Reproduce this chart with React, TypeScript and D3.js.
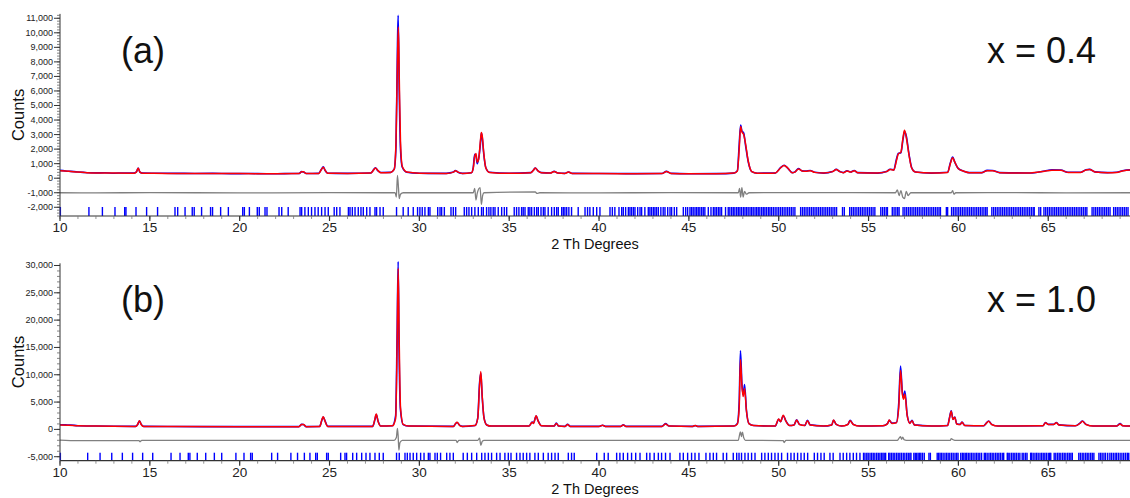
import React from "react";
import * as d3 from "d3";

type Pt = [number, number];

// ---------- Panel (a): x = 0.4 ----------
const calcA: Pt[] = [
  [10.0, 520], [10.5, 480], [11.0, 420], [11.5, 380], [12.0, 360], [13.0, 350], [14.1, 345],
  [14.25, 420], [14.35, 680], [14.45, 420], [14.6, 345], [16.0, 330], [18.0, 320], [20.0, 315],
  [22.0, 310], [23.3, 320], [23.45, 440], [23.55, 440], [23.7, 320], [24.4, 330], [24.55, 600],
  [24.65, 760], [24.75, 560], [24.9, 340], [26.0, 330], [27.3, 360], [27.45, 560], [27.55, 700],
  [27.7, 520], [27.85, 380], [28.4, 400], [28.6, 600], [28.7, 2500], [28.78, 8000], [28.83, 10400],
  [28.88, 7000], [28.95, 2500], [29.05, 800], [29.3, 420], [30.0, 340], [31.5, 330], [31.9, 420],
  [32.0, 520], [32.15, 420], [32.4, 330], [32.9, 380], [33.0, 700], [33.08, 1500], [33.15, 1700],
  [33.22, 1100], [33.3, 1300], [33.4, 2600], [33.45, 3150], [33.5, 2900], [33.58, 1800], [33.7, 700],
  [33.9, 400], [35.0, 340], [36.2, 380], [36.35, 550], [36.45, 700], [36.6, 500], [36.8, 380],
  [37.3, 360], [37.5, 460], [37.7, 360], [38.1, 330], [38.3, 420], [38.5, 330], [40.0, 320],
  [42.0, 310], [43.5, 320], [43.75, 460], [44.0, 330], [45.0, 300], [46.5, 310], [47.5, 350],
  [47.7, 500], [47.8, 2000], [47.88, 3550], [47.95, 3200], [48.05, 3000], [48.15, 2400], [48.3, 1200],
  [48.5, 450], [48.8, 340], [49.8, 350], [50.1, 700], [50.3, 880], [50.5, 700], [50.75, 380],
  [50.9, 420], [51.1, 640], [51.3, 500], [51.5, 480], [51.75, 520], [52.0, 400], [52.5, 350],
  [53.0, 450], [53.2, 600], [53.4, 450], [53.6, 380], [53.8, 500], [54.0, 420], [54.2, 520],
  [54.4, 380], [55.5, 350], [56.0, 450], [56.2, 600], [56.4, 550], [56.55, 1200], [56.65, 1650],
  [56.8, 1800], [56.92, 2800], [57.0, 3300], [57.1, 2800], [57.25, 1600], [57.4, 700], [57.6, 420],
  [58.5, 350], [59.4, 400], [59.55, 1000], [59.68, 1400], [59.8, 1100], [60.0, 650], [60.3, 480],
  [60.6, 380], [61.3, 380], [61.6, 520], [61.9, 520], [62.3, 380], [64.0, 360], [64.8, 480],
  [65.2, 550], [65.7, 540], [66.1, 400], [66.8, 400], [67.1, 570], [67.3, 600], [67.6, 430],
  [68.3, 380], [68.8, 400], [69.2, 520], [69.55, 560],
];

const obsA: Pt[] = [
  [10.0, 540], [10.3, 500], [10.6, 470], [11.0, 430], [11.3, 400], [11.6, 370], [12.0, 365],
  [12.5, 372], [13.0, 345], [13.5, 360], [14.1, 350], [14.25, 430], [14.35, 700], [14.45, 410],
  [14.6, 350], [15.5, 340], [16.5, 335], [17.5, 322], [18.5, 330], [19.5, 312], [20.5, 322],
  [21.5, 306], [22.5, 316], [23.3, 322], [23.45, 450], [23.55, 430], [23.7, 322], [24.4, 335],
  [24.55, 620], [24.65, 780], [24.75, 550], [24.9, 340], [26.0, 330], [27.3, 362], [27.45, 580],
  [27.55, 720], [27.7, 500], [27.85, 390], [28.4, 400], [28.6, 620], [28.7, 2200], [28.78, 9000],
  [28.82, 11200], [28.88, 6000], [28.95, 2000], [29.05, 750], [29.3, 410], [30.0, 345], [31.0, 330],
  [31.5, 335], [31.9, 420], [32.0, 530], [32.15, 410], [32.4, 330], [32.9, 380], [33.0, 750],
  [33.08, 1650], [33.15, 1550], [33.22, 1000], [33.3, 1350], [33.4, 2400], [33.45, 3100],
  [33.5, 2800], [33.58, 1700], [33.7, 720], [33.9, 410], [35.0, 345], [36.2, 385], [36.35, 560],
  [36.45, 690], [36.6, 510], [36.8, 385], [37.3, 362], [37.5, 470], [37.7, 360], [38.1, 335],
  [38.3, 425], [38.5, 332], [40.0, 322], [41.0, 318], [42.0, 312], [43.5, 322], [43.75, 470],
  [44.0, 332], [45.0, 302], [46.5, 312], [47.5, 352], [47.7, 520], [47.8, 2300], [47.88, 3650],
  [47.95, 3250], [48.05, 3100], [48.15, 2300], [48.3, 1150], [48.5, 450], [48.8, 345], [49.8, 352],
  [50.1, 720], [50.3, 890], [50.5, 690], [50.75, 385], [50.9, 425], [51.1, 660], [51.3, 505],
  [51.5, 485], [51.75, 530], [52.0, 405], [52.5, 352], [53.0, 455], [53.2, 610], [53.4, 455],
  [53.6, 385], [53.8, 510], [54.0, 425], [54.2, 530], [54.4, 385], [55.5, 352], [56.0, 455],
  [56.2, 620], [56.4, 560], [56.55, 1300], [56.65, 1700], [56.8, 1750], [56.92, 2700],
  [57.0, 3200], [57.1, 2900], [57.25, 1650], [57.4, 720], [57.6, 425], [58.5, 352], [59.4, 405],
  [59.55, 1050], [59.68, 1450], [59.8, 1100], [60.0, 660], [60.3, 485], [60.6, 385], [61.3, 385],
  [61.6, 540], [61.9, 530], [62.3, 385], [64.0, 362], [64.8, 490], [65.2, 570], [65.7, 560],
  [66.1, 405], [66.8, 405], [67.1, 580], [67.3, 610], [67.6, 435], [68.3, 385], [68.8, 405],
  [69.2, 530], [69.55, 570],
];

const diffA: Pt[] = [
  [10.0, -1000], [12.0, -1010], [15.0, -990], [20.0, -1010], [25.0, -990], [28.0, -1000],
  [28.65, -1000], [28.72, -1300], [28.78, 200], [28.84, -700], [28.88, -1400], [28.95, -1100],
  [29.1, -1000], [33.0, -1000], [33.08, -700], [33.15, -1500], [33.22, -1050], [33.38, -650],
  [33.45, -1800], [33.52, -1200], [33.6, -1000], [36.45, -950], [36.55, -1050], [36.7, -1000],
  [40.0, -1010], [44.0, -990], [47.75, -1000], [47.82, -700], [47.88, -1300], [47.95, -650],
  [48.02, -1300], [48.1, -900], [48.2, -1100], [48.35, -1000], [52.0, -990], [56.5, -1000],
  [56.6, -800], [56.7, -1200], [56.8, -850], [56.9, -1300], [57.0, -1400], [57.1, -900],
  [57.2, -1200], [57.35, -1000], [59.6, -1000], [59.68, -850], [59.75, -1100], [59.85, -1000],
  [63.0, -990], [66.0, -1010], [69.55, -1000],
];

const reflA: number[] = [
  10.02, 11.61, 12.36, 13.06, 13.6, 13.67, 14.23, 14.82, 15.43, 16.4, 16.55, 16.96, 17.36, 17.47,
  17.88, 18.38, 18.49, 18.94, 19.37, 20.17, 20.26, 20.54, 20.98, 21.09, 21.41, 21.52, 22.19, 22.34,
  22.7, 23.36, 23.45, 23.63, 23.82, 24.0, 24.19, 24.37, 24.56, 24.75, 24.93, 25.26, 25.4, 25.58,
  26.05, 26.14, 26.27, 26.42, 26.6, 26.75, 26.88, 27.07, 27.25, 27.53, 27.62, 27.81, 27.99, 28.73,
  29.1, 29.38, 29.66, 29.9, 30.03, 30.16, 30.31, 30.5, 30.59, 31.02, 31.15, 31.24, 31.39, 31.76,
  31.89, 32.02, 32.5, 32.63, 32.76, 32.91, 33.09, 33.28, 33.46, 33.56, 33.74, 33.87, 33.98, 34.11,
  34.21, 34.39, 34.58, 34.73, 34.86, 35.28, 35.41, 35.54, 35.69, 35.78, 35.88, 36.06, 36.15, 36.25,
  36.4, 36.53, 36.62, 36.77, 36.9, 36.99, 37.17, 37.36, 37.51, 37.64, 37.73, 37.92, 38.01, 38.1,
  38.2, 38.32, 38.47, 38.84, 39.22, 39.36, 39.49, 39.68, 39.87, 40.05, 40.61, 40.74, 40.88, 41.11,
  41.26, 41.35, 41.48, 41.63, 41.72, 41.81, 41.91, 42.0, 42.15, 42.28, 42.37, 42.55, 42.74, 42.83,
  42.92, 43.02, 43.11, 43.2, 43.3, 43.44, 43.57, 43.67, 43.82, 43.95, 44.04, 44.19, 44.32, 44.69,
  44.82, 44.93, 45.06, 45.15, 45.24, 45.34, 45.43, 45.52, 45.61, 45.71, 45.8, 45.89, 46.08, 46.23,
  46.36, 46.45, 46.54, 46.64, 46.73, 46.82, 47.04, 47.19, 47.28, 47.38, 47.47, 47.56, 47.66, 47.75,
  47.84, 47.93, 48.03, 48.12, 48.21, 48.3, 48.4, 48.49, 48.58, 48.68, 48.77, 48.86, 48.95, 49.05,
  49.14, 49.23, 49.32, 49.42, 49.51, 49.6, 49.7, 49.8, 49.9, 50.0, 50.1, 50.2, 50.3, 50.4, 50.5,
  50.6, 50.7, 50.8, 50.9, 51.22, 51.32, 51.42, 51.52, 51.62, 51.72, 51.82, 51.92, 52.02, 52.12,
  52.22, 52.32, 52.42, 52.52, 52.62, 52.72, 52.82, 52.92, 53.02, 53.12, 53.22, 53.55, 53.65, 53.95,
  54.05, 54.15, 54.25, 54.35, 54.45, 54.55, 54.65, 54.75, 54.85, 54.95, 55.05, 55.15, 55.25, 55.35,
  55.68, 55.78, 55.88, 55.98, 56.05, 56.32, 56.42, 56.52, 56.62, 56.7, 56.92, 57.02, 57.12, 57.22,
  57.32, 57.42, 57.52, 57.62, 57.72, 57.82, 57.92, 58.02, 58.12, 58.22, 58.32, 58.42, 58.52, 58.62,
  58.72, 58.82, 58.92, 59.0, 59.33, 59.4, 59.62, 59.72, 59.82, 59.92, 60.02, 60.12, 60.22, 60.32,
  60.42, 60.52, 60.62, 60.72, 60.82, 60.92, 61.02, 61.12, 61.22, 61.32, 61.42, 61.52, 61.6, 61.86,
  61.96, 62.06, 62.16, 62.26, 62.36, 62.46, 62.56, 62.66, 62.76, 62.86, 62.96, 63.06, 63.16, 63.26,
  63.36, 63.46, 63.56, 63.66, 63.76, 63.86, 63.96, 64.06, 64.16, 64.22, 64.48, 64.58, 64.76, 64.86,
  64.96, 65.06, 65.16, 65.26, 65.36, 65.46, 65.56, 65.66, 65.76, 65.86, 65.96, 66.06, 66.16, 66.26,
  66.36, 66.46, 66.56, 66.66, 66.76, 66.86, 66.96, 67.06, 67.15, 67.44, 67.54, 67.64, 67.74, 67.84,
  67.94, 68.04, 68.14, 68.24, 68.34, 68.44, 68.64, 68.74, 68.84, 68.94, 69.04, 69.14, 69.24, 69.34,
  69.44,
];

// ---------- Panel (b): x = 1.0 ----------
const calcB: Pt[] = [
  [10.0, 800], [10.5, 780], [11.0, 650], [12.0, 600], [13.0, 560], [14.2, 540], [14.32, 900],
  [14.42, 1600], [14.52, 900], [14.65, 540], [16.0, 520], [20.0, 500], [23.3, 500], [23.45, 900],
  [23.55, 900], [23.7, 500], [24.45, 520], [24.58, 1800], [24.65, 2300], [24.75, 1500], [24.9, 550],
  [27.4, 550], [27.52, 1800], [27.6, 2800], [27.7, 1500], [27.85, 600], [28.5, 650], [28.68, 2000],
  [28.76, 15000], [28.82, 29500], [28.87, 18000], [28.95, 4000], [29.1, 900], [29.4, 600],
  [31.9, 550], [32.0, 1000], [32.1, 1300], [32.25, 700], [32.4, 550], [33.1, 700], [33.25, 2000],
  [33.35, 8000], [33.42, 10600], [33.5, 6000], [33.6, 2000], [33.75, 800], [34.0, 600], [36.1, 600],
  [36.28, 1300], [36.35, 1100], [36.5, 2500], [36.6, 1600], [36.8, 650], [37.5, 600], [37.62, 1100],
  [37.75, 600], [38.1, 550], [38.25, 900], [38.4, 550], [40.0, 550], [40.2, 750], [40.35, 550],
  [41.2, 550], [41.35, 800], [41.5, 550], [43.5, 550], [43.7, 1000], [43.9, 600], [45.2, 550],
  [45.35, 700], [45.5, 550], [47.5, 600], [47.7, 1000], [47.8, 4000], [47.87, 12800], [47.95, 8000],
  [48.02, 6000], [48.1, 7500], [48.2, 3500], [48.35, 1000], [48.6, 700], [49.8, 600], [50.0, 1900],
  [50.1, 1400], [50.25, 2600], [50.4, 1500], [50.6, 700], [50.85, 800], [51.0, 1700], [51.15, 900],
  [51.45, 700], [51.6, 1600], [51.75, 800], [52.5, 600], [52.95, 800], [53.05, 1700], [53.2, 900],
  [53.5, 600], [53.85, 900], [53.97, 1600], [54.15, 900], [54.5, 600], [55.8, 650], [56.05, 1000],
  [56.15, 1700], [56.3, 1100], [56.55, 1200], [56.68, 4000], [56.78, 10800], [56.88, 6500],
  [56.95, 5500], [57.02, 6500], [57.15, 2500], [57.3, 1100], [57.42, 1600], [57.55, 800], [58.5, 600],
  [59.4, 700], [59.5, 2000], [59.6, 3300], [59.7, 1800], [59.8, 2200], [59.9, 1000], [60.1, 900],
  [60.2, 1300], [60.35, 700], [61.4, 650], [61.55, 1100], [61.68, 1500], [61.85, 900], [62.2, 600],
  [64.7, 650], [64.85, 1200], [65.0, 900], [65.3, 900], [65.45, 1200], [65.6, 800], [66.5, 650],
  [66.8, 1200], [66.9, 1500], [67.1, 900], [67.5, 600], [68.8, 600], [69.0, 1000], [69.15, 650],
  [69.55, 600],
];

const obsB: Pt[] = [
  [10.0, 850], [10.3, 820], [10.6, 800], [11.0, 660], [12.0, 610], [13.0, 570], [14.2, 545],
  [14.32, 880], [14.42, 1550], [14.52, 920], [14.65, 545], [16.0, 525], [18.0, 510], [20.0, 505],
  [23.3, 505], [23.45, 920], [23.55, 880], [23.7, 505], [24.45, 525], [24.58, 1750], [24.65, 2250],
  [24.75, 1550], [24.9, 555], [27.4, 555], [27.52, 1700], [27.6, 2700], [27.7, 1550], [27.85, 610],
  [28.5, 660], [28.68, 2500], [28.76, 17000], [28.82, 30700], [28.87, 15000], [28.95, 3500],
  [29.1, 880], [29.4, 610], [31.9, 555], [32.0, 1000], [32.1, 1250], [32.25, 720], [32.4, 555],
  [33.1, 710], [33.25, 2100], [33.35, 8500], [33.42, 10300], [33.5, 5800], [33.6, 2100], [33.75, 820],
  [34.0, 610], [36.1, 610], [36.28, 1350], [36.35, 1150], [36.5, 2450], [36.6, 1650], [36.8, 660],
  [37.5, 610], [37.62, 1150], [37.75, 610], [38.1, 555], [38.25, 920], [38.4, 555], [40.0, 555],
  [40.2, 770], [40.35, 555], [41.2, 555], [41.35, 820], [41.5, 555], [43.5, 555], [43.7, 1050],
  [43.9, 610], [45.2, 555], [45.35, 720], [45.5, 555], [47.5, 610], [47.7, 1100], [47.8, 5000],
  [47.87, 14400], [47.95, 8500], [48.02, 6300], [48.1, 8200], [48.2, 3600], [48.35, 1050],
  [48.6, 710], [49.8, 610], [50.0, 1850], [50.1, 1400], [50.25, 2500], [50.4, 1550], [50.6, 720],
  [50.85, 820], [51.0, 1750], [51.15, 920], [51.45, 720], [51.6, 1650], [51.75, 820], [52.5, 610],
  [52.95, 820], [53.05, 1650], [53.2, 920], [53.5, 610], [53.85, 920], [53.97, 1650], [54.15, 920],
  [54.5, 610], [55.8, 660], [56.05, 1050], [56.15, 1650], [56.3, 1150], [56.55, 1250], [56.68, 4800],
  [56.78, 11600], [56.88, 6800], [56.95, 5800], [57.02, 7000], [57.15, 2600], [57.3, 1150],
  [57.42, 1650], [57.55, 820], [58.5, 610], [59.4, 720], [59.5, 2100], [59.6, 3400], [59.7, 1850],
  [59.8, 2250], [59.9, 1050], [60.1, 920], [60.2, 1350], [60.35, 720], [61.4, 660], [61.55, 1150],
  [61.68, 1550], [61.85, 920], [62.2, 610], [64.7, 660], [64.85, 1250], [65.0, 920], [65.3, 920],
  [65.45, 1250], [65.6, 820], [66.5, 660], [66.8, 1250], [66.9, 1550], [67.1, 920], [67.5, 610],
  [68.8, 610], [69.0, 1050], [69.15, 660], [69.55, 610],
];

const diffB: Pt[] = [
  [10.0, -1950], [11.0, -2050], [14.4, -2050], [14.45, -2250], [14.55, -2000], [20.0, -2000],
  [28.6, -2000], [28.72, -1500], [28.78, 200], [28.82, -1200], [28.86, -3800], [28.92, -2400],
  [29.05, -2000], [32.05, -2000], [32.1, -2400], [32.2, -2000], [33.25, -2000], [33.35, -1600],
  [33.42, -2900], [33.5, -2200], [33.6, -2000], [40.0, -2000], [47.75, -2000], [47.82, -1000],
  [47.87, -440], [47.92, -1300], [47.98, -500], [48.05, -1500], [48.15, -2000], [50.25, -2050],
  [50.3, -2400], [50.4, -2000], [56.6, -2000], [56.7, -1600], [56.78, -1350], [56.84, -1800],
  [56.9, -1400], [56.98, -1900], [57.1, -2000], [59.55, -2000], [59.6, -1700], [59.7, -1900],
  [59.8, -2000], [65.0, -2000], [69.55, -2000],
];

const reflB: number[] = [
  10.02, 11.54, 12.23, 12.88, 13.47, 14.04, 14.6, 15.16, 16.18, 16.68, 17.14, 17.23, 17.64, 18.11,
  18.59, 19.0, 19.79, 20.24, 20.61, 20.7, 21.78, 22.11, 22.85, 23.22, 23.6, 23.91, 24.23, 24.32,
  24.84, 24.93, 25.62, 25.86, 25.95, 26.29, 26.51, 26.79, 27.03, 27.25, 27.53, 27.77, 27.99, 28.73,
  28.88, 29.2, 29.33, 29.48, 29.66, 29.85, 30.07, 30.26, 30.5, 30.59, 30.87, 31.0, 31.18, 31.52,
  31.7, 31.89, 32.44, 32.67, 32.91, 33.19, 33.47, 33.65, 33.84, 34.02, 34.3, 34.49, 34.76, 34.95,
  35.1, 35.41, 35.6, 35.78, 35.97, 36.15, 36.43, 36.62, 36.9, 37.17, 37.36, 37.55, 37.73, 38.29,
  38.47, 38.62, 39.87, 40.29, 40.51, 40.98, 41.16, 41.35, 41.59, 41.81, 42.04, 42.28, 42.65, 42.83,
  43.07, 43.3, 43.48, 43.7, 43.95, 44.5, 44.69, 44.93, 45.15, 45.34, 45.56, 45.95, 46.17, 46.36,
  46.54, 46.91, 47.1, 47.47, 47.66, 47.79, 47.93, 48.12, 48.3, 48.49, 48.68, 49.05, 49.23, 49.42,
  49.6, 49.79, 49.97, 50.16, 50.49, 50.68, 50.86, 51.05, 51.24, 51.42, 51.61, 51.98, 52.16, 52.35,
  52.53, 52.85, 53.03, 53.41, 53.59, 53.78, 53.96, 54.15, 54.33, 54.52, 54.72, 54.8, 54.9, 54.98,
  55.08, 55.17, 55.26, 55.35, 55.45, 55.54, 55.63, 55.72, 55.8, 55.87, 55.95, 56.12, 56.19, 56.28,
  56.37, 56.46, 56.56, 56.65, 56.74, 56.83, 56.93, 57.02, 57.12, 57.21, 57.3, 57.36, 57.52, 57.6,
  57.68, 57.76, 57.84, 57.91, 58.0, 58.1, 58.36, 58.44, 58.82, 58.9, 58.98, 59.06, 59.15, 59.25,
  59.34, 59.43, 59.52, 59.62, 59.71, 59.81, 59.9, 59.98, 60.13, 60.22, 60.3, 60.38, 60.46, 60.55,
  60.64, 60.73, 60.82, 60.92, 61.01, 61.1, 61.19, 61.29, 61.44, 61.51, 61.6, 61.7, 61.79, 61.88,
  61.97, 62.07, 62.16, 62.25, 62.34, 62.44, 62.52, 62.72, 62.77, 62.86, 62.96, 63.05, 63.14, 63.23,
  63.33, 63.42, 63.55, 63.64, 63.74, 63.82, 64.02, 64.07, 64.16, 64.26, 64.35, 64.44, 64.54, 64.63,
  64.72, 64.81, 64.9, 65.0, 65.08, 65.14, 65.33, 65.42, 65.52, 65.61, 65.7, 65.8, 65.89, 65.98,
  66.08, 66.17, 66.26, 66.34, 66.7, 66.79, 66.89, 66.98, 67.08, 67.17, 67.26, 67.36, 67.45, 67.54,
  67.82, 67.91, 68.0, 68.1, 68.19, 68.31, 68.43, 68.52, 68.62, 68.72, 68.8, 68.9, 69.0, 69.1,
  69.2, 69.3, 69.4, 69.48,
];

// ---------- axes ----------
const xDomain: [number, number] = [10, 69.55];
const xMajorTicks = [10, 15, 20, 25, 30, 35, 40, 45, 50, 55, 60, 65];
const yTicksA = [-2000, -1000, 0, 1000, 2000, 3000, 4000, 5000, 6000, 7000, 8000, 9000, 10000, 11000];
const yTicksB = [-5000, 0, 5000, 10000, 15000, 20000, 25000, 30000];
const xLabel = "2 Th Degrees";
const yLabel = "Counts";

const FONT = "'Liberation Sans', Arial, Helvetica, sans-serif";
const fmt = d3.format(",");
const fmtTick = (v: number) => fmt(v).replace("\u2212", "-");

interface PanelProps {
  calc: Pt[];
  obs: Pt[];
  diff: Pt[];
  refl: number[];
  yDomain: [number, number];
  yRange: [number, number];
  yTicks: number[];
  yMinorStep: number;
  tag: string;
  comp: string;
  reflHeight: number;
}

function Panel(p: PanelProps) {
  const x = d3.scaleLinear().domain(xDomain).range([60, 1130]);
  const y = d3.scaleLinear().domain(p.yDomain).range(p.yRange);
  const line = d3
    .line<Pt>()
    .x((d) => x(d[0]))
    .y((d) => y(d[1]))
    .curve(d3.curveMonotoneX);
  const axisY = p.yRange[0];
  const topY = p.yRange[1];
  const minor: number[] = [];
  const start = Math.ceil(p.yDomain[0] / p.yMinorStep) * p.yMinorStep;
  for (let v = start; v <= p.yDomain[1]; v += p.yMinorStep) minor.push(v);
  const xMinor = d3.range(10, 70, 1);
  const midX = (x(xDomain[0]) + x(xDomain[1])) / 2;
  const midY = (axisY + topY) / 2;
  return (
    <g>
      {/* reflection markers */}
      {p.refl.map((r, i) => (
        <line key={"r" + i} x1={x(r)} x2={x(r)} y1={axisY} y2={axisY - p.reflHeight} stroke="#0000ff" strokeWidth={1.4} />
      ))}
      {/* difference */}
      <path d={line(p.diff) || ""} fill="none" stroke="#808080" strokeWidth={1.3} />
      {/* observed */}
      <path d={line(p.obs) || ""} fill="none" stroke="#0000ff" strokeWidth={1.6} />
      {/* calculated */}
      <path d={line(p.calc) || ""} fill="none" stroke="#ff0000" strokeWidth={1.5} />
      {/* y axis */}
      <line x1={60} x2={60} y1={topY} y2={axisY} stroke="#333" strokeWidth={1} />
      {minor.map((v, i) => (
        <line key={"ym" + i} x1={57} x2={60} y1={y(v)} y2={y(v)} stroke="#666" strokeWidth={0.8} />
      ))}
      {p.yTicks.map((v) => (
        <g key={"yt" + v}>
          <line x1={54} x2={60} y1={y(v)} y2={y(v)} stroke="#333" strokeWidth={1} />
          <text x={53} y={y(v) + 3} textAnchor="end" fontSize={9} fill="#222" fontFamily={FONT}>
            {fmtTick(v)}
          </text>
        </g>
      ))}
      {/* x axis */}
      <line x1={60} x2={1130} y1={axisY} y2={axisY} stroke="#333" strokeWidth={1.2} />
      {xMinor.map((v) => (
        <line key={"xm" + v} x1={x(v)} x2={x(v)} y1={axisY} y2={axisY + 3} stroke="#777" strokeWidth={0.8} />
      ))}
      {xMajorTicks.map((v) => (
        <g key={"xt" + v}>
          <line x1={x(v)} x2={x(v)} y1={axisY} y2={axisY + 5} stroke="#333" strokeWidth={1.2} />
          <text x={x(v)} y={axisY + 16} textAnchor="middle" fontSize={13.5} fill="#222" fontFamily={FONT}>
            {v}
          </text>
        </g>
      ))}
      <text x={midX} y={axisY + 33} textAnchor="middle" fontSize={14.5} fill="#111" fontFamily={FONT}>
        {xLabel}
      </text>
      <text
        transform={`translate(24, ${midY}) rotate(-90)`}
        textAnchor="middle"
        fontSize={16.5}
        fill="#111"
        fontFamily={FONT}
      >
        {yLabel}
      </text>
      <text x={121} y={topY + 49} fontSize={36} fill="#111" fontFamily={FONT}>
        {p.tag}
      </text>
      <text x={987} y={topY + 49} fontSize={36} fill="#111" fontFamily={FONT}>
        {p.comp}
      </text>
    </g>
  );
}

export default function App() {
  return (
    <svg
      width={1130}
      height={498}
      style={{ position: "absolute", left: 0, top: 0, background: "#fff", display: "block" }}
    >
      <rect x={0} y={0} width={1130} height={498} fill="#fff" />
      <Panel
        calc={calcA}
        obs={obsA}
        diff={diffA}
        refl={reflA}
        yDomain={[-2600, 11300]}
        yRange={[216, 13.9]}
        yTicks={yTicksA}
        yMinorStep={200}
        tag="(a)"
        comp="x = 0.4"
        reflHeight={9}
      />
      <Panel
        calc={calcB}
        obs={obsB}
        diff={diffB}
        refl={reflB}
        yDomain={[-5730, 30400]}
        yRange={[460.7, 263.3]}
        yTicks={yTicksB}
        yMinorStep={1000}
        tag="(b)"
        comp="x = 1.0"
        reflHeight={8}
      />
    </svg>
  );
}
